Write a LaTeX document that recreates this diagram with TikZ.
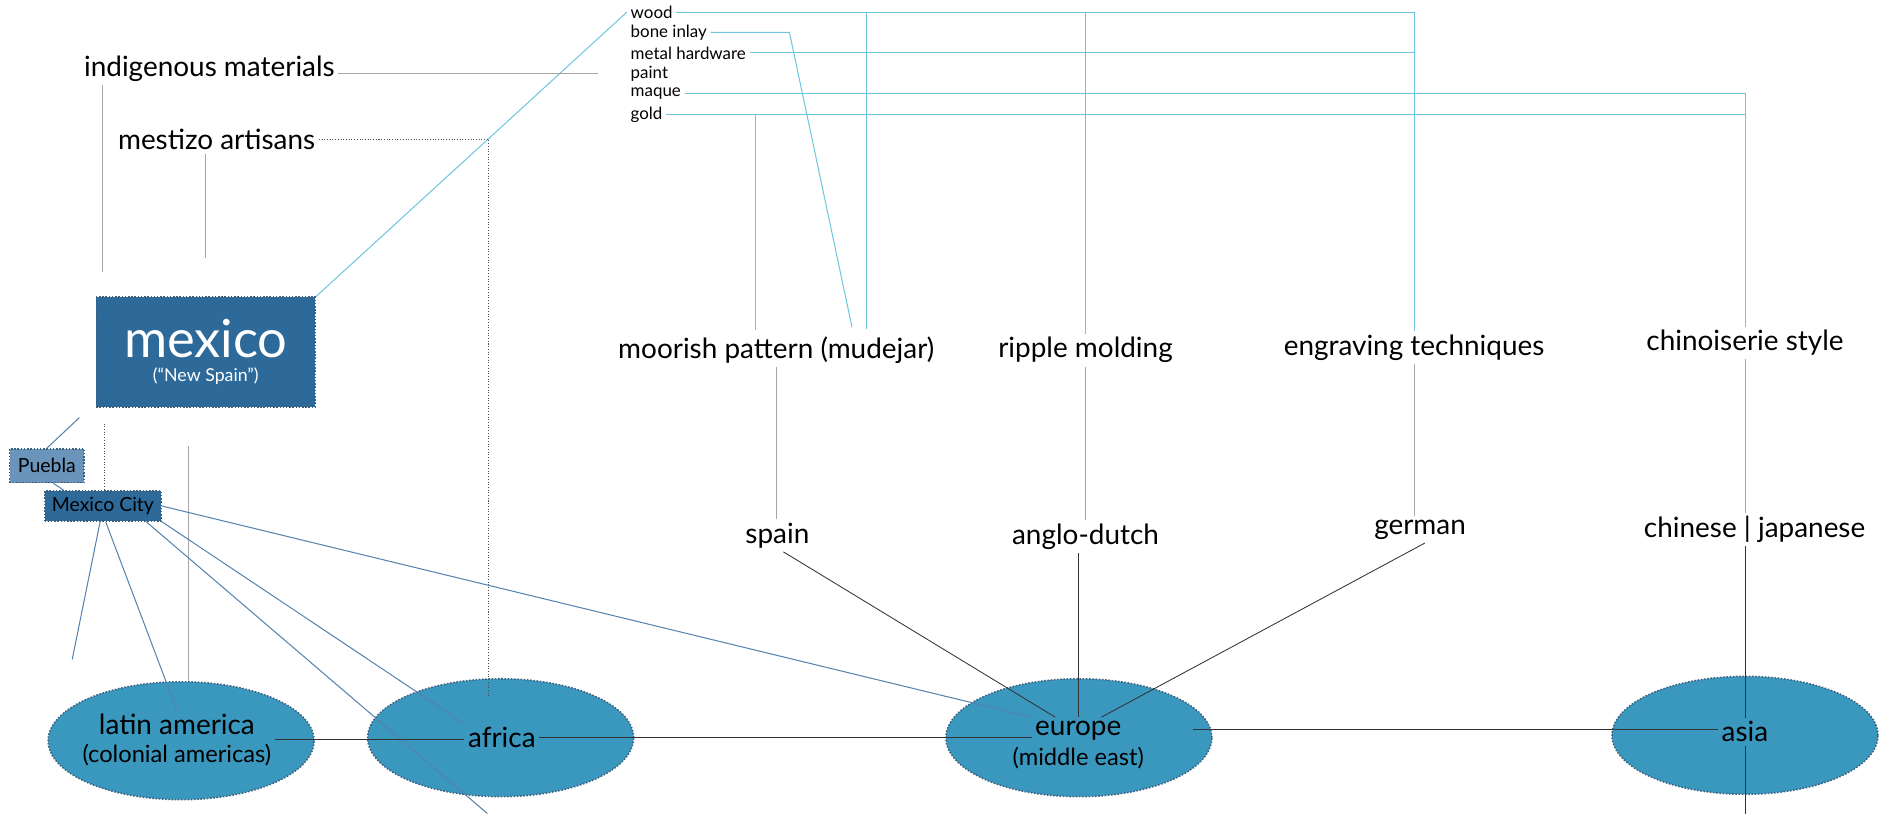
\documentclass[tikz,border=0pt]{standalone}
\usepackage{fontspec}
\setmainfont{Lato}
\usetikzlibrary{shapes.geometric}
\definecolor{boxblue}{RGB}{46,106,153}
\definecolor{pueblablue}{RGB}{106,148,186}
\definecolor{regionblue}{RGB}{58,151,189}
\definecolor{edgeblue}{RGB}{60,95,125}
\definecolor{linkcyan}{RGB}{110,198,222}
\definecolor{cityline}{RGB}{84,130,175}
\tikzset{
  lbl/.style={font=\fontsize{16.5}{18}\selectfont, inner sep=2pt},
  sublbl/.style={font=\fontsize{14}{16}\selectfont, inner sep=2pt},
  material/.style={font=\fontsize{10}{12}\selectfont, anchor=west, inner sep=2pt},
  region/.style={ellipse, fill=regionblue, draw=edgeblue, densely dotted, line width=0.9pt,
    minimum width=55.25mm, minimum height=24.5mm},
  cityrect/.style={rectangle, fill=boxblue, draw=edgeblue, densely dotted, line width=0.9pt},
  cyanlink/.style={draw=linkcyan, line width=0.6pt},
  graylink/.style={draw=black!35, line width=0.6pt},
  citylink/.style={draw=cityline, line width=0.6pt},
  darklink/.style={draw=black!80, line width=0.5pt},
  dotlink/.style={draw=black!70, densely dotted, line width=0.6pt},
}
\begin{document}
\begin{tikzpicture}[x=0.25mm, y=-0.25mm]
  \useasboundingbox (0,0) rectangle (1568,676);
  % materials
  \node[material] (wood)  at (521,10) {wood};
  \node[material] (bone)  at (521,27) {bone inlay};
  \node[material] (metal) at (521,44) {metal hardware};
  \node[material] (paint) at (521,61) {paint};
  \node[material] (maque) at (521,78) {maque};
  \node[material] (gold)  at (521,95) {gold};
  % mexico side
  \node[lbl] (indig) at (174,57) {indigenous materials};
  \node[lbl] (mest) at (180,116) {mestizo artisans};
  \node[cityrect, minimum width=45.5mm, minimum height=22.75mm, text=white, align=center] (mex) at (171,292.5)
    {{\fontsize{31}{31}\selectfont mexico}\\[2pt]{\fontsize{10.5}{12}\selectfont (“New Spain”)}};
  \node[cityrect, fill=pueblablue, font=\fontsize{11.5}{13}\selectfont, minimum width=15.5mm, minimum height=7mm] (puebla) at (39,387) {Puebla};
  \node[cityrect, font=\fontsize{11.5}{13}\selectfont, minimum width=24.25mm, minimum height=6.25mm] (city) at (85.5,420.5) {Mexico City};
  % styles
  \node[lbl] (moor) at (645,291) {moorish pattern (mudejar)};
  \node[lbl] (ripple) at (902,291) {ripple molding};
  \node[lbl] (engr) at (1175,289) {engraving techniques};
  \node[lbl] (chin) at (1450,285) {chinoiserie style};
  % origins
  \node[lbl] (spain) at (646,445) {spain};
  \node[lbl] (anglo) at (902,446) {anglo-dutch};
  \node[lbl] (german) at (1180,440) {german};
  \node[lbl] (chjp) at (1458,440) {chinese | japanese};
  % regions
  \node[region] (latam) at (150.5,615.5) {};
  \node[region] (africa) at (416,613) {};
  \node[region] (europe) at (896.5,613) {};
  \node[region] (asia) at (1450,611) {};
  \node[lbl] (latamlbl) at (147,602) {latin america};
  \node[sublbl] (latamsub) at (147,627) {(colonial americas)};
  \node[lbl] (africalbl) at (417,613) {africa};
  \node[lbl] (europelbl) at (896,607) {europe};
  \node[sublbl] (europesub) at (896,630) {(middle east)};
  \node[lbl] (asialbl) at (1450,608) {asia};
  % free ends
  \coordinate (bonebend) at (656,27);
  \coordinate (moorgold) at (628,274);
  \coordinate (moorbone) at (708,272);
  \coordinate (moorwood) at (720,273);
  \coordinate (indigdrop) at (85,226);
  \coordinate (mestdrop) at (171,214);
  \coordinate (mestend) at (406,579);
  \coordinate (mexdrop) at (87,352);
  \coordinate (latamdrop) at (157,371);
  \coordinate (pueblatop) at (66,347);
  \coordinate (cityfree) at (60,548);
  \coordinate (cityout) at (405,676);
  \coordinate (euroout) at (991,606);
  \coordinate (asiabot) at (1450,676);
  % material links
  \draw[cyanlink] (mex.north east) -- (wood.west);
  \draw[cyanlink] (wood.east) -- (wood.east -| engr.north) -- (engr.north);
  \draw[cyanlink] (metal.east) -- (metal.east -| engr.north);
  \draw[cyanlink] (maque.east) -- (maque.east -| chin.north) -- (chin.north);
  \draw[cyanlink] (gold.east) -- (gold.east -| chin.north);
  \draw[cyanlink] (wood.east -| ripple.north) -- (ripple.north);
  \draw[cyanlink] (wood.east -| moorwood) -- (moorwood);
  \draw[cyanlink] (gold.east -| moorgold) -- (moorgold);
  \draw[cyanlink] (bone.east) -- (bonebend) -- (moorbone);
  % gray links
  \draw[graylink] (indig.east |- paint.west) -- ([xshift=-6mm]paint.west);
  \draw[graylink] (indigdrop |- indig.south) -- (indigdrop);
  \draw[graylink] (mestdrop |- mest.south) -- (mestdrop);
  \draw[graylink] (latamdrop) -- (latamdrop |- latam.north);
  \draw[graylink] (moor.south) -- (moor.south |- spain.north);
  \draw[graylink] (ripple.south) -- (ripple.south |- anglo.north);
  \draw[graylink] (engr.south) -- (engr.south |- german.north);
  \draw[graylink] (chin.south) -- (chin.south |- chjp.north);
  % artisans
  \draw[dotlink] (mest.east) -- (mest.east -| mestend) -- (mestend);
  \draw[dotlink] (mexdrop) -- (mexdrop |- city.north);
  % mexico city
  \draw[citylink] (pueblatop) -- (puebla.north);
  \draw[citylink] (puebla.-70) -- (city.158);
  \draw[citylink] (city.-100) -- (cityfree);
  \draw[citylink] (city.-80) -- (latamlbl.north);
  \draw[citylink] (city.-20) -- (cityout);
  \draw[citylink] (city.south east) -- (africalbl.north west);
  \draw[citylink] (city.east) -- (europelbl.north west);
  % origins to regions
  \draw[darklink] (spain.-70) -- (europelbl.150);
  \draw[darklink] (europelbl.north |- anglo.south) -- (europelbl.north);
  \draw[darklink] (german.-70) -- (europelbl.30);
  \draw[darklink] (asialbl.north |- chjp.south) -- (asialbl.north);
  \draw[darklink] (asiabot |- asialbl.south) -- (asiabot);
  % region row
  \draw[darklink] (latamsub.north east) -- (latamsub.north east -| africalbl.west);
  \draw[darklink] (africalbl.east) -- (africalbl.east -| europelbl.west);
  \draw[darklink] (euroout) -- (euroout -| asialbl.west);
\end{tikzpicture}
\end{document}
